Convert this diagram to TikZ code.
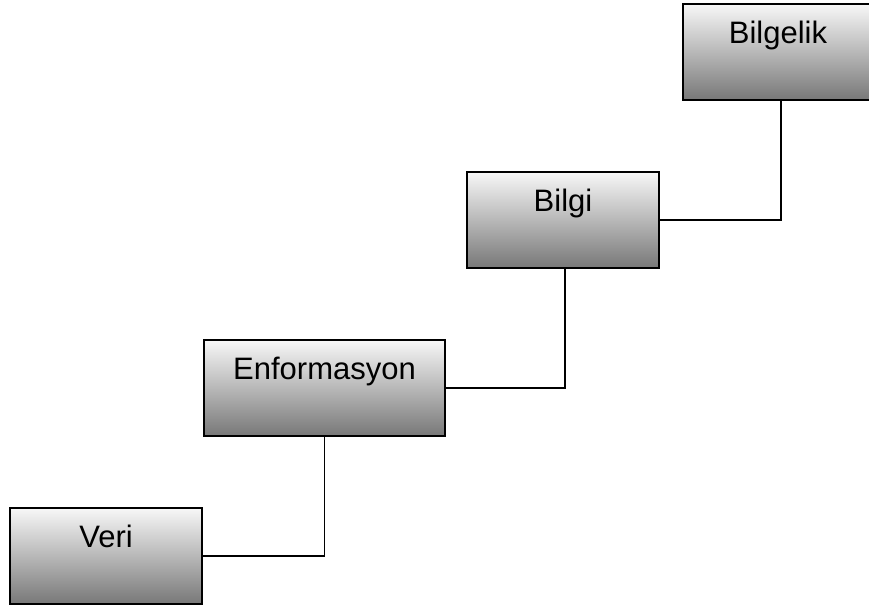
\documentclass[tikz,border=0pt]{standalone}
\usepackage{fontspec}
\setmainfont{Liberation Sans}
\begin{document}
\begin{tikzpicture}[x=1pt,y=-1pt,
  box/.style={draw=black, line width=1.6pt, rectangle, top color=white!97!black, bottom color=black!53, minimum height=96pt, inner sep=0pt},
  txt/.style={font=\fontsize{31}{37}\selectfont, anchor=base, yshift=-40pt},
  conn/.style={draw=black, line width=1.6pt}]
\useasboundingbox (0,0) rectangle (869,612);
\node[box, minimum width=192pt, label={[txt]north:Veri}] (veri) at (106,556) {};
\node[box, minimum width=241pt, label={[txt]north:Enformasyon}] (enf) at (324.5,388) {};
\node[box, minimum width=192pt, label={[txt]north:Bilgi}] (bilgi) at (563,220) {};
\node[box, minimum width=196pt, label={[txt, xshift=-3pt]north:Bilgelik}] (bilgelik) at (781,52) {};
\draw[conn] (veri.east) -| (enf.south);
\draw[conn] (enf.east) -| ([xshift=2pt]bilgi.south);
\draw[conn] (bilgi.east) -| (bilgelik.south);
\end{tikzpicture}
\end{document}
